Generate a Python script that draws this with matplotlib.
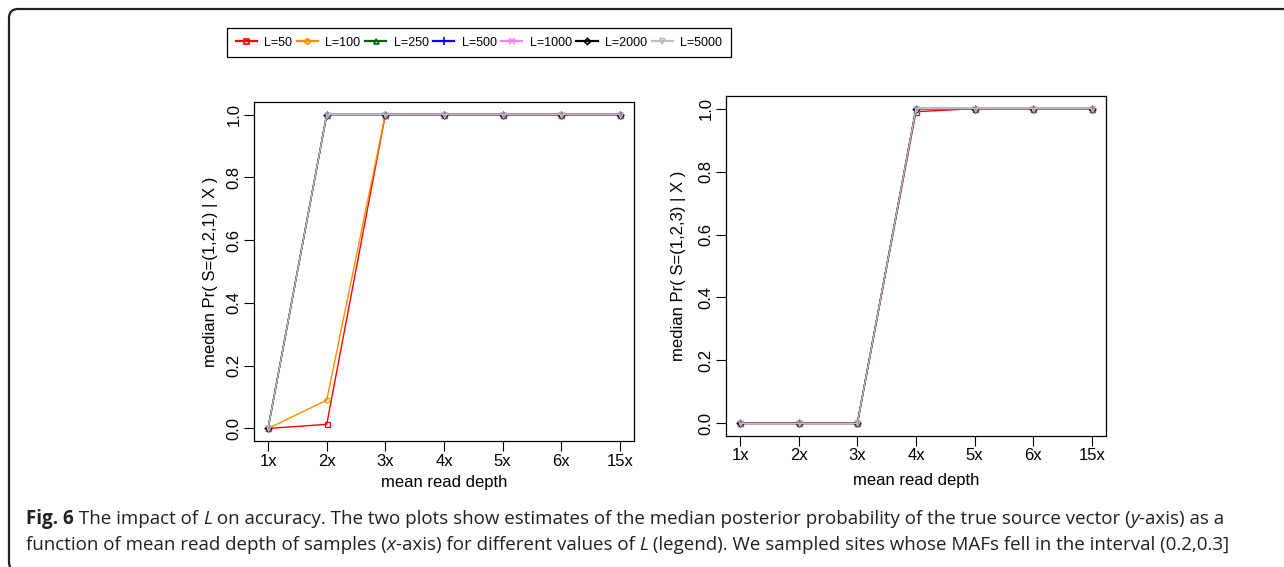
import numpy as np
import matplotlib
matplotlib.use("Agg")
import matplotlib.pyplot as plt
import matplotlib.patches as mpatches
import matplotlib.transforms as mtransforms
from matplotlib.lines import Line2D

# read depths shown on the x axis
depths = ["1x", "2x", "3x", "4x", "5x", "6x", "15x"]
L_values = [50, 100, 250, 500, 1000, 2000, 5000]

# left panel: median Pr( S=(1,2,1) | X )
left_L50 = [0.0, 0.013, 1.0, 1.0, 1.0, 1.0, 1.0]
left_L100 = [0.0, 0.09, 1.0, 1.0, 1.0, 1.0, 1.0]
left_L250 = [0.0, 1.0, 1.0, 1.0, 1.0, 1.0, 1.0]
left_L500 = [0.0, 1.0, 1.0, 1.0, 1.0, 1.0, 1.0]
left_L1000 = [0.0, 1.0, 1.0, 1.0, 1.0, 1.0, 1.0]
left_L2000 = [0.0, 1.0, 1.0, 1.0, 1.0, 1.0, 1.0]
left_L5000 = [0.0, 1.0, 1.0, 1.0, 1.0, 1.0, 1.0]

# right panel: median Pr( S=(1,2,3) | X )
right_L50 = [0.0, 0.0, 0.0, 0.99, 1.0, 1.0, 1.0]
right_L100 = [0.0, 0.0, 0.0, 1.0, 1.0, 1.0, 1.0]
right_L250 = [0.0, 0.0, 0.0, 1.0, 1.0, 1.0, 1.0]
right_L500 = [0.0, 0.0, 0.0, 1.0, 1.0, 1.0, 1.0]
right_L1000 = [0.0, 0.0, 0.0, 1.0, 1.0, 1.0, 1.0]
right_L2000 = [0.0, 0.0, 0.0, 1.0, 1.0, 1.0, 1.0]
right_L5000 = [0.0, 0.0, 0.0, 1.0, 1.0, 1.0, 1.0]

left_series = [left_L50, left_L100, left_L250, left_L500,
               left_L1000, left_L2000, left_L5000]
right_series = [right_L50, right_L100, right_L250, right_L500,
                right_L1000, right_L2000, right_L5000]

# R-like styling (pch 0..6)
colors = ["#FF0000", "#FF8C00", "#006400", "#0000FF", "#EE82EE", "#000000", "#BEBEBE"]
markers = ["s", "o", "^", "+", "x", "D", "v"]
msizes = [4.5, 4.5, 4.5, 7, 6, 4, 4.5]

plt.rcParams["font.family"] = ["Liberation Sans", "DejaVu Sans"]

W, H = 1284, 567
fig = plt.figure(figsize=(W / 100, H / 100), dpi=100)


def px_axes(x0, y0, x1, y1):
    return fig.add_axes([x0 / W, 1 - y1 / H, (x1 - x0) / W, (y1 - y0) / H])


def draw_panel(ax, series, ylabel, ylab_x, xlab_y):
    x = np.arange(len(depths))
    for vals, c, m, ms in zip(series, colors, markers, msizes):
        ax.plot(x, vals, color=c, lw=1.0, marker=m, ms=ms * 0.8,
                mfc="none", mec=c, mew=0.9)
    ax.set_xlim(-0.24, len(depths) - 1 + 0.24)
    ax.set_ylim(-0.04, 1.04)
    ax.set_xticks(x)
    ax.set_xticklabels(depths)
    ax.set_yticks([0.0, 0.2, 0.4, 0.6, 0.8, 1.0])
    ax.set_yticklabels(["0.0", "0.2", "0.4", "0.6", "0.8", "1.0"],
                       rotation=90, va="center")
    ax.tick_params(axis="both", direction="out", length=7, width=0.8,
                   labelsize=12, color="black")
    ax.tick_params(axis="x", pad=2)
    ax.tick_params(axis="y", pad=2)
    for s in ax.spines.values():
        s.set_linewidth(0.9)
    ax.set_xlabel("mean read depth", fontsize=12)
    ax.set_ylabel(ylabel, fontsize=12)
    bb = ax.get_position()
    ax.xaxis.set_label_coords((bb.x0 + bb.x1) / 2, 1 - xlab_y / H,
                              transform=fig.transFigure)
    ax.xaxis.label.set_va("center")
    ax.yaxis.set_label_coords(ylab_x / W, (bb.y0 + bb.y1) / 2,
                              transform=fig.transFigure)
    ax.yaxis.label.set_va("center")


ax1 = px_axes(254, 102, 634, 441)
draw_panel(ax1, left_series, "median Pr( S=(1,2,1) | X )", 210, 482)
ax2 = px_axes(726, 96, 1106, 436)
draw_panel(ax2, right_series, "median Pr( S=(1,2,3) | X )", 678, 481)

# legend across the top
handles = [Line2D([0], [0], color=c, lw=1.6, marker=m, ms=ms * 0.8,
                  mfc="none", mec=c, mew=1.2)
           for c, m, ms in zip(colors, markers, msizes)]
labels = ["L=%d" % v for v in L_values]
leg = fig.legend(handles, labels, loc="center", ncol=7,
                 bbox_to_anchor=(479 / W, 1 - 42.5 / H),
                 fontsize=9, frameon=True, fancybox=False, edgecolor="black",
                 framealpha=1, handlelength=1.7, handletextpad=0.6,
                 columnspacing=0.35, borderpad=0.65, borderaxespad=0)
leg.get_frame().set_linewidth(0.9)

# rounded outer frame (right and bottom edges fall outside the image)
frame = mpatches.FancyBboxPatch((9, -4), W + 40, H - 5,
                                boxstyle="round,pad=0,rounding_size=9",
                                transform=mtransforms.IdentityTransform(),
                                fc="none", ec="#222222", lw=1.6)
fig.add_artist(frame)

# caption with mixed styles
cap_font = ["Open Sans", "DejaVu Sans"]
cap_size = 13.5
line1 = [("Fig. 6", "bold", "normal"),
         (" The impact of ", "normal", "normal"),
         ("L", "normal", "italic"),
         (" on accuracy. The two plots show estimates of the median posterior "
          "probability of the true source vector (", "normal", "normal"),
         ("y", "normal", "italic"),
         ("-axis) as a", "normal", "normal")]
line2 = [("function of mean read depth of samples (", "normal", "normal"),
         ("x", "normal", "italic"),
         ("-axis) for different values of ", "normal", "normal"),
         ("L", "normal", "italic"),
         (" (legend). We sampled sites whose MAFs fell in the interval (0.2,0.3]",
          "normal", "normal")]

renderer = fig.canvas.get_renderer()


def draw_caption(pieces, x_px, y_px):
    t = mtransforms.IdentityTransform()
    for s, weight, style in pieces:
        txt = fig.text(x_px, H - y_px, s, transform=t, fontsize=cap_size,
                       family=cap_font, weight=weight, style=style,
                       va="baseline", ha="left", color="#231F20")
        ex = txt.get_window_extent(renderer)
        t = mtransforms.offset_copy(t, x=ex.width, units="dots", fig=fig)


draw_caption(line1, 26, 524)
draw_caption(line2, 26, 550)

fig.savefig("out.png", dpi=100)
